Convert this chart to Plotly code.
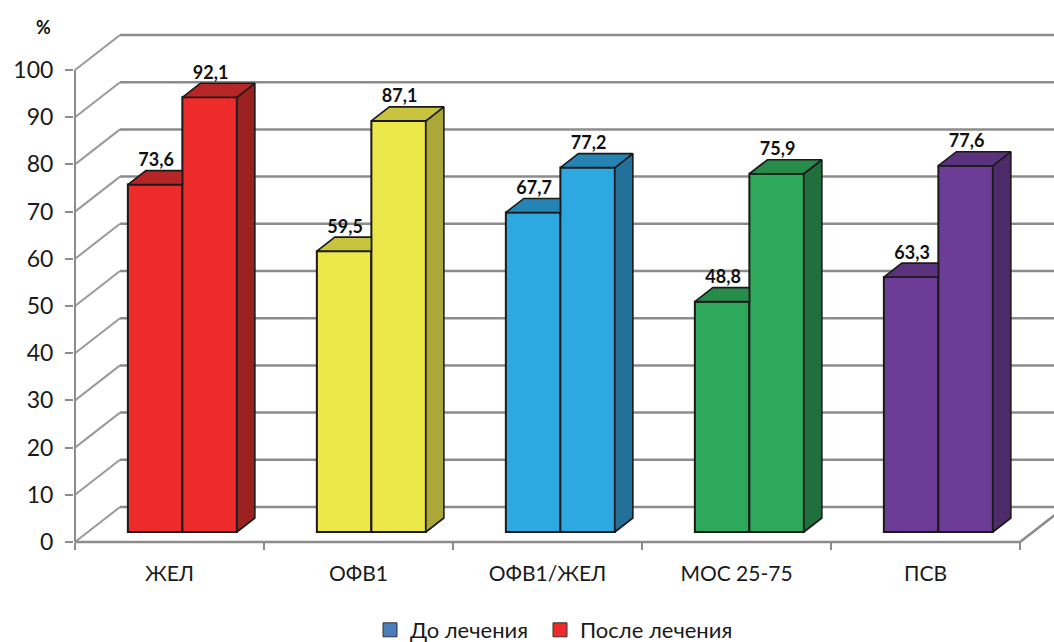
import plotly.graph_objects as go

# ---------------- data ----------------
categories = ["ЖЕЛ", "ОФВ1", "ОФВ1/ЖЕЛ", "МОС 25-75", "ПСВ"]
series_names = ["До лечения", "После лечения"]
before = [73.6, 59.5, 67.7, 48.8, 54.0]
after = [92.1, 87.1, 77.2, 75.9, 77.6]
before_labels = ["73,6", "59,5", "67,7", "48,8", "63,3"]
after_labels = ["92,1", "87,1", "77,2", "75,9", "77,6"]
y_ticks = list(range(0, 101, 10))
unit_label = "%"

# ---------------- style ----------------
legend_colors = ["#4a7ebb", "#ee2b2b"]
front_colors = ["#ee2b2b", "#ede84a", "#2ea8e0", "#2ea85a", "#6c3c97"]
top_colors = ["#b72626", "#c9c43e", "#2684b4", "#278b4a", "#5a327e"]
side_colors = ["#9b2121", "#aca838", "#23709a", "#216f3c", "#4d2b6b"]
grid_color = "#8c8c8c"
edge_color = "#1a1a1a"
FONT = "Lato, 'Open Sans', sans-serif"

W, H = 1054, 642
PX = 4.72            # pixels per value unit
Y0 = 542             # pixel row of value 0 (front plane)
LEFT = 74
X_START = 75
CAT_W = 189
DEPTH_X = 45
DEPTH_V = 35 / PX
T_FRONT = 10 / 35
T_BACK = 24 / 35
BAR_W = 54.5
LEGEND_LEFT_PX = [370, 540]

base = DEPTH_V * T_FRONT
bdx = DEPTH_X * (T_BACK - T_FRONT)
bdv = DEPTH_V * (T_BACK - T_FRONT)
n = len(categories)
x_end = X_START + CAT_W * n


def group_center(i):
    return X_START + CAT_W * (i + 0.5) + DEPTH_X * T_FRONT


x_before = [group_center(i) - BAR_W / 2 for i in range(n)]
x_after = [group_center(i) + BAR_W / 2 for i in range(n)]

fig = go.Figure()

# front faces
for xs, vals in ((x_before, before), (x_after, after)):
    fig.add_trace(go.Bar(
        x=xs, y=vals, base=base, width=BAR_W,
        marker=dict(color=front_colors, line=dict(color=edge_color, width=2)),
        showlegend=False, hoverinfo="skip"))


def face(xs, ys, color):
    fig.add_trace(go.Scatter(
        x=xs + [xs[0]], y=ys + [ys[0]], mode="lines", fill="toself",
        fillcolor=color, line=dict(color=edge_color, width=1.6),
        showlegend=False, hoverinfo="skip"))


for i in range(n):
    # before bar: top face clipped by the taller neighbour
    xl, xr = x_before[i] - BAR_W / 2, x_before[i] + BAR_W / 2
    t = base + before[i]
    face([xl, xr, xr, xl + bdx], [t, t, t + bdv, t + bdv], top_colors[i])
    # after bar: side + top
    xl, xr = x_after[i] - BAR_W / 2, x_after[i] + BAR_W / 2
    t = base + after[i]
    face([xr, xr, xr + bdx, xr + bdx], [base, t, t + bdv, base + bdv], side_colors[i])
    face([xl, xr, xr + bdx, xl + bdx], [t, t, t + bdv, t + bdv], top_colors[i])

# data labels
for xs, vals, labs in ((x_before, before, before_labels), (x_after, after, after_labels)):
    fig.add_trace(go.Scatter(
        x=[x + 1 for x in xs], y=[v + base + bdv + 1.9 for v in vals],
        text=labs, mode="text", textposition="middle center",
        textfont=dict(family=FONT, size=18, color="#111111", weight="bold"),
        showlegend=False, hoverinfo="skip", cliponaxis=False))

# legend entries (one legend box each, so they can be placed like the original)
legend_ids = ["legend", "legend2"]
for name, col, lid in zip(series_names, legend_colors, legend_ids):
    fig.add_trace(go.Scatter(
        x=[None], y=[None], mode="markers", name=name, legend=lid,
        marker=dict(symbol="square", size=14, color=col,
                    line=dict(color="#333333", width=1))))

# walls / gridlines
shapes = []
for v in y_ticks:
    shapes.append(dict(type="line", xref="x", yref="y", layer="below",
                       x0=X_START, y0=v, x1=X_START + DEPTH_X, y1=v + DEPTH_V,
                       line=dict(color="#9a9a9a", width=2)))
    shapes.append(dict(type="line", xref="x", yref="y", layer="below",
                       x0=X_START + DEPTH_X, y0=v + DEPTH_V, x1=W + 5, y1=v + DEPTH_V,
                       line=dict(color=grid_color, width=2.5)))
shapes.append(dict(type="line", xref="x", yref="y", layer="below",
                   x0=X_START, y0=0, x1=X_START, y1=max(y_ticks),
                   line=dict(color=grid_color, width=2)))
shapes.append(dict(type="path", xref="x", yref="y", layer="below",
                   path=f"M {X_START},0 L {x_end},0 L {x_end + DEPTH_X},{DEPTH_V}",
                   line=dict(color=grid_color, width=2.5)))

legend_style = dict(orientation="h", xanchor="left", y=12 / H, yanchor="middle",
                    bgcolor="rgba(0,0,0,0)", itemwidth=30,
                    font=dict(family=FONT, size=22, color="#1a1a1a"))

fig.update_layout(
    width=W, height=H,
    margin=dict(l=LEFT, r=0, t=0, b=0, autoexpand=False),
    paper_bgcolor="white", plot_bgcolor="white",
    barmode="overlay",
    shapes=shapes,
    font=dict(family=FONT, color="#1a1a1a"),
    xaxis=dict(
        range=[LEFT, W], anchor="free", position=(H - Y0) / H,
        tickmode="array",
        tickvals=[X_START + CAT_W * (i + 0.5) for i in range(n)],
        ticktext=categories, ticks="", ticklabelstandoff=17,
        tickfont=dict(family=FONT, size=21, color="#1a1a1a"),
        minor=dict(tickmode="array",
                   tickvals=[X_START + CAT_W * k for k in range(n + 1)],
                   ticks="outside", ticklen=7, tickwidth=2, tickcolor=grid_color,
                   showgrid=False),
        showgrid=False, zeroline=False, showline=False, fixedrange=True),
    yaxis=dict(
        range=[-(H - Y0) / PX, Y0 / PX],
        tickmode="array", tickvals=y_ticks, ticks="outside",
        ticklen=8, tickwidth=2, tickcolor=grid_color, ticklabelstandoff=7,
        tickfont=dict(family=FONT, size=23, color="#1a1a1a"),
        showgrid=False, zeroline=False, showline=False, fixedrange=True),
    legend=dict(legend_style, x=(LEGEND_LEFT_PX[0] - LEFT) / (W - LEFT)),
    legend2=dict(legend_style, x=(LEGEND_LEFT_PX[1] - LEFT) / (W - LEFT)),
    annotations=[dict(text=unit_label, xref="paper", yref="paper",
                      x=(43 - LEFT) / (W - LEFT), y=1 - 27 / H,
                      xanchor="center", yanchor="middle", showarrow=False,
                      font=dict(family=FONT, size=18, color="#111111", weight="bold"))],
)

fig.write_html("out.html")
